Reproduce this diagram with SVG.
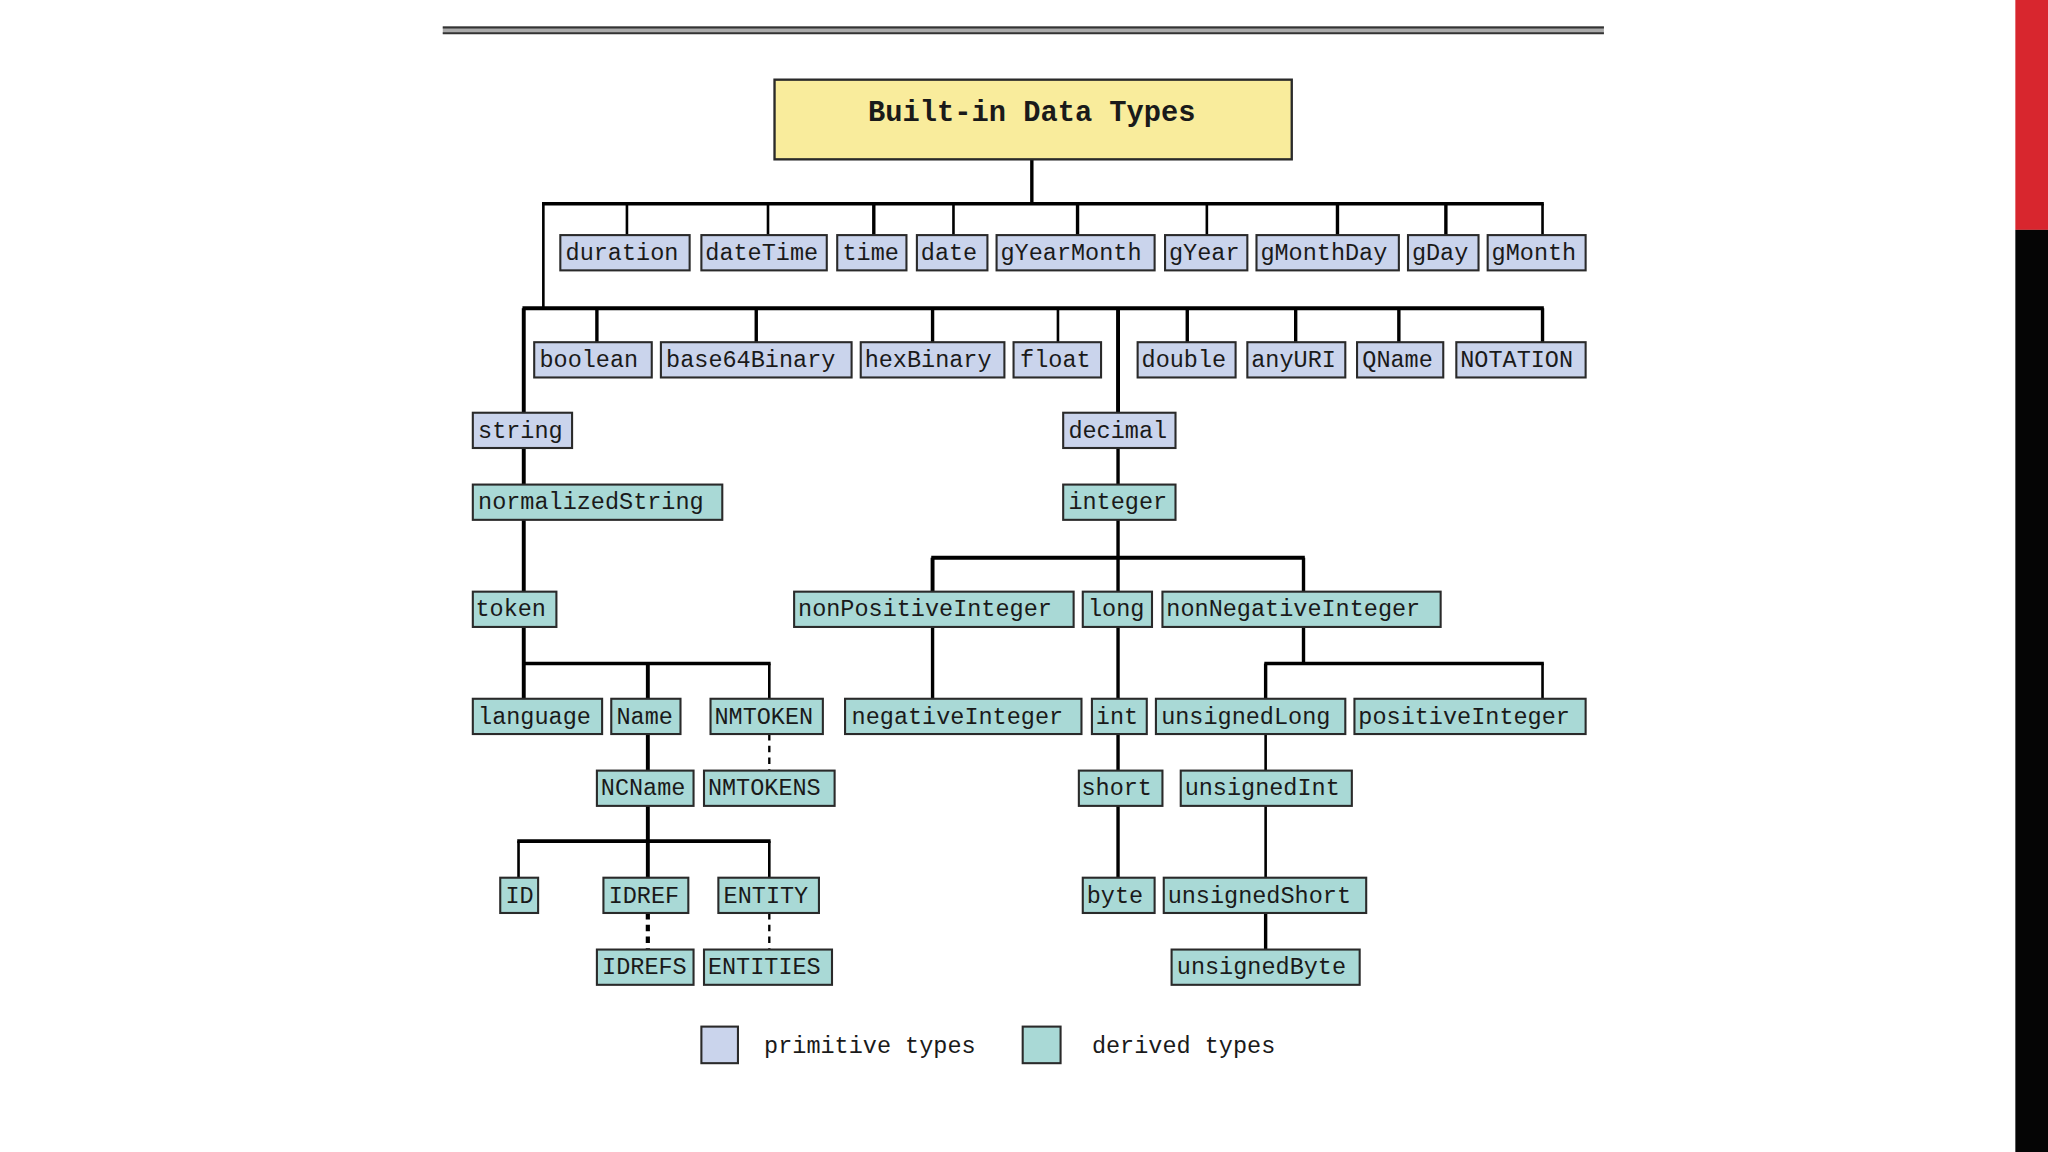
<svg xmlns="http://www.w3.org/2000/svg" width="2048" height="1152" viewBox="0 0 2048 1152">
<style>
.p rect{fill:#cad4ec;stroke:#2a2a2a;stroke-width:1.6}
.d rect{fill:#a9d9d6;stroke:#2a2a2a;stroke-width:1.6}
text{font-family:"Liberation Mono","Courier New",monospace;font-size:18px;fill:#1a1a1a}
.c line{stroke:#000;stroke-width:2.6}
.c .thin{stroke-width:2}
.c .dash{stroke-dasharray:5,4;stroke-width:1.8}
.c .dashb{stroke-dasharray:5,4;stroke-width:3.2}
</style>
<rect x="0" y="0" width="2048" height="1152" fill="#ffffff"/>
<g transform="scale(1.30612)">
<g id="topline">
<rect x="339" y="20" width="889" height="6" fill="#aaaaaa"/>
<line x1="339" y1="21" x2="1228" y2="21" stroke="#333" stroke-width="1.6"/>
<line x1="339" y1="25.5" x2="1228" y2="25.5" stroke="#333" stroke-width="1.6"/>
</g>
<g id="sidebar">
<rect x="1543" y="0" width="25" height="176" fill="#d8262e"/>
<rect x="1543" y="176" width="25" height="706" fill="#050505"/>
</g>
<g class="c" id="connectors">
<line x1="790" y1="122" x2="790" y2="156"/>
<line x1="415" y1="156" x2="1182" y2="156"/>
<line x1="416" y1="155" x2="416" y2="236" class="thin"/>
<line class="thin" x1="480" y1="156" x2="480" y2="180"/>
<line class="thin" x1="588" y1="156" x2="588" y2="180"/>
<line x1="669" y1="156" x2="669" y2="180"/>
<line class="thin" x1="730" y1="156" x2="730" y2="180"/>
<line x1="825" y1="156" x2="825" y2="180"/>
<line class="thin" x1="924" y1="156" x2="924" y2="180"/>
<line x1="1024" y1="156" x2="1024" y2="180"/>
<line x1="1107" y1="156" x2="1107" y2="180"/>
<line class="thin" x1="1181" y1="156" x2="1181" y2="180"/>
<line x1="400" y1="236" x2="1182" y2="236" style="stroke-width:3"/>
<line x1="457" y1="236" x2="457" y2="262"/>
<line x1="579" y1="236" x2="579" y2="262"/>
<line x1="714" y1="236" x2="714" y2="262"/>
<line class="thin" x1="810" y1="236" x2="810" y2="262"/>
<line x1="909" y1="236" x2="909" y2="262"/>
<line x1="992" y1="236" x2="992" y2="262"/>
<line x1="1071" y1="236" x2="1071" y2="262"/>
<line x1="1181" y1="236" x2="1181" y2="262"/>
<line x1="856" y1="236" x2="856" y2="316" style="stroke-width:3"/>
<line x1="401" y1="236" x2="401" y2="316" style="stroke-width:3"/>
<line x1="401" y1="343" x2="401" y2="371" style="stroke-width:3"/>
<line x1="401" y1="398" x2="401" y2="453" style="stroke-width:3"/>
<line x1="401" y1="480" x2="401" y2="535" style="stroke-width:3"/>
<line x1="400" y1="508" x2="590" y2="508"/>
<line x1="496" y1="508" x2="496" y2="535" style="stroke-width:3"/>
<line class="thin" x1="589" y1="508" x2="589" y2="535"/>
<line x1="496" y1="562" x2="496" y2="590" style="stroke-width:3"/>
<line class="dash" x1="589" y1="562" x2="589" y2="590"/>
<line x1="496" y1="617" x2="496" y2="672" style="stroke-width:3"/>
<line x1="396" y1="644" x2="590" y2="644" style="stroke-width:3"/>
<line class="thin" x1="397" y1="644" x2="397" y2="672"/>
<line class="thin" x1="589" y1="644" x2="589" y2="672"/>
<line class="dashb" x1="496" y1="699" x2="496" y2="727"/>
<line class="dash" x1="589" y1="699" x2="589" y2="727"/>
<line x1="856" y1="343" x2="856" y2="371"/>
<line x1="856" y1="398" x2="856" y2="453"/>
<line x1="713" y1="427" x2="999" y2="427" style="stroke-width:3"/>
<line x1="714" y1="427" x2="714" y2="453" style="stroke-width:3"/>
<line x1="998" y1="427" x2="998" y2="453"/>
<line x1="714" y1="480" x2="714" y2="535"/>
<line x1="856" y1="480" x2="856" y2="535"/>
<line x1="856" y1="562" x2="856" y2="590"/>
<line x1="856" y1="617" x2="856" y2="672"/>
<line x1="998" y1="480" x2="998" y2="508"/>
<line x1="968" y1="508" x2="1182" y2="508"/>
<line x1="969" y1="508" x2="969" y2="535"/>
<line class="thin" x1="1181" y1="508" x2="1181" y2="535"/>
<line class="thin" x1="969" y1="562" x2="969" y2="590"/>
<line class="thin" x1="969" y1="617" x2="969" y2="672"/>
<line x1="969" y1="699" x2="969" y2="727"/>
</g>
<g id="title"><rect x="593" y="61" width="396" height="61" fill="#f9ec9c" stroke="#2a2a2a" stroke-width="1.8"/><text x="790" y="93" text-anchor="middle" style="font-size:22px;font-weight:bold">Built-in Data Types</text></g>
<g class="p" id="duration"><rect x="429" y="180" width="99" height="27"/><text x="433" y="199">duration</text></g>
<g class="p" id="dateTime"><rect x="537" y="180" width="96" height="27"/><text x="540" y="199">dateTime</text></g>
<g class="p" id="time"><rect x="641" y="180" width="53" height="27"/><text x="645" y="199">time</text></g>
<g class="p" id="date"><rect x="702" y="180" width="54" height="27"/><text x="705" y="199">date</text></g>
<g class="p" id="gYearMonth"><rect x="763" y="180" width="121" height="27"/><text x="766" y="199">gYearMonth</text></g>
<g class="p" id="gYear"><rect x="892" y="180" width="63" height="27"/><text x="895" y="199">gYear</text></g>
<g class="p" id="gMonthDay"><rect x="962" y="180" width="109" height="27"/><text x="965" y="199">gMonthDay</text></g>
<g class="p" id="gDay"><rect x="1078" y="180" width="54" height="27"/><text x="1081" y="199">gDay</text></g>
<g class="p" id="gMonth"><rect x="1139" y="180" width="75" height="27"/><text x="1142" y="199">gMonth</text></g>
<g class="p" id="boolean"><rect x="409" y="262" width="90" height="27"/><text x="413" y="281">boolean</text></g>
<g class="p" id="base64Binary"><rect x="506" y="262" width="146" height="27"/><text x="510" y="281">base64Binary</text></g>
<g class="p" id="hexBinary"><rect x="659" y="262" width="110" height="27"/><text x="662" y="281">hexBinary</text></g>
<g class="p" id="float"><rect x="776" y="262" width="67" height="27"/><text x="781" y="281">float</text></g>
<g class="p" id="double"><rect x="871" y="262" width="75" height="27"/><text x="874" y="281">double</text></g>
<g class="p" id="anyURI"><rect x="955" y="262" width="75" height="27"/><text x="958" y="281">anyURI</text></g>
<g class="p" id="QName"><rect x="1039" y="262" width="66" height="27"/><text x="1043" y="281">QName</text></g>
<g class="p" id="NOTATION"><rect x="1115" y="262" width="99" height="27"/><text x="1118" y="281">NOTATION</text></g>
<g class="p" id="string"><rect x="362" y="316" width="76" height="27"/><text x="366" y="335">string</text></g>
<g class="p" id="decimal"><rect x="814" y="316" width="86" height="27"/><text x="818" y="335">decimal</text></g>
<g class="d" id="normalizedString"><rect x="362" y="371" width="191" height="27"/><text x="366" y="390">normalizedString</text></g>
<g class="d" id="integer"><rect x="814" y="371" width="86" height="27"/><text x="818" y="390">integer</text></g>
<g class="d" id="token"><rect x="362" y="453" width="64" height="27"/><text x="364" y="472">token</text></g>
<g class="d" id="nonPositiveInteger"><rect x="608" y="453" width="214" height="27"/><text x="611" y="472">nonPositiveInteger</text></g>
<g class="d" id="long"><rect x="829" y="453" width="53" height="27"/><text x="833" y="472">long</text></g>
<g class="d" id="nonNegativeInteger"><rect x="890" y="453" width="213" height="27"/><text x="893" y="472">nonNegativeInteger</text></g>
<g class="d" id="language"><rect x="362" y="535" width="99" height="27"/><text x="366" y="554">language</text></g>
<g class="d" id="Name"><rect x="468" y="535" width="53" height="27"/><text x="472" y="554">Name</text></g>
<g class="d" id="NMTOKEN"><rect x="544" y="535" width="86" height="27"/><text x="547" y="554">NMTOKEN</text></g>
<g class="d" id="negativeInteger"><rect x="647" y="535" width="181" height="27"/><text x="652" y="554">negativeInteger</text></g>
<g class="d" id="int"><rect x="836" y="535" width="42" height="27"/><text x="839" y="554">int</text></g>
<g class="d" id="unsignedLong"><rect x="885" y="535" width="145" height="27"/><text x="889" y="554">unsignedLong</text></g>
<g class="d" id="positiveInteger"><rect x="1037" y="535" width="177" height="27"/><text x="1040" y="554">positiveInteger</text></g>
<g class="d" id="NCName"><rect x="457" y="590" width="74" height="27"/><text x="460" y="609">NCName</text></g>
<g class="d" id="NMTOKENS"><rect x="539" y="590" width="100" height="27"/><text x="542" y="609">NMTOKENS</text></g>
<g class="d" id="short"><rect x="826" y="590" width="64" height="27"/><text x="828" y="609">short</text></g>
<g class="d" id="unsignedInt"><rect x="904" y="590" width="131" height="27"/><text x="907" y="609">unsignedInt</text></g>
<g class="d" id="ID"><rect x="383" y="672" width="29" height="27"/><text x="387" y="691">ID</text></g>
<g class="d" id="IDREF"><rect x="462" y="672" width="65" height="27"/><text x="466" y="691">IDREF</text></g>
<g class="d" id="ENTITY"><rect x="550" y="672" width="77" height="27"/><text x="554" y="691">ENTITY</text></g>
<g class="d" id="byte"><rect x="829" y="672" width="55" height="27"/><text x="832" y="691">byte</text></g>
<g class="d" id="unsignedShort"><rect x="891" y="672" width="155" height="27"/><text x="894" y="691">unsignedShort</text></g>
<g class="d" id="IDREFS"><rect x="457" y="727" width="74" height="27"/><text x="461" y="746">IDREFS</text></g>
<g class="d" id="ENTITIES"><rect x="539" y="727" width="98" height="27"/><text x="542" y="746">ENTITIES</text></g>
<g class="d" id="unsignedByte"><rect x="897" y="727" width="144" height="27"/><text x="901" y="746">unsignedByte</text></g>
<g id="legend">
<g class="p"><rect x="537" y="786" width="28" height="28"/></g>
<text x="585" y="806">primitive types</text>
<g class="d"><rect x="783" y="786" width="29" height="28"/></g>
<text x="836" y="806">derived types</text>
</g>
</g>
</svg>
